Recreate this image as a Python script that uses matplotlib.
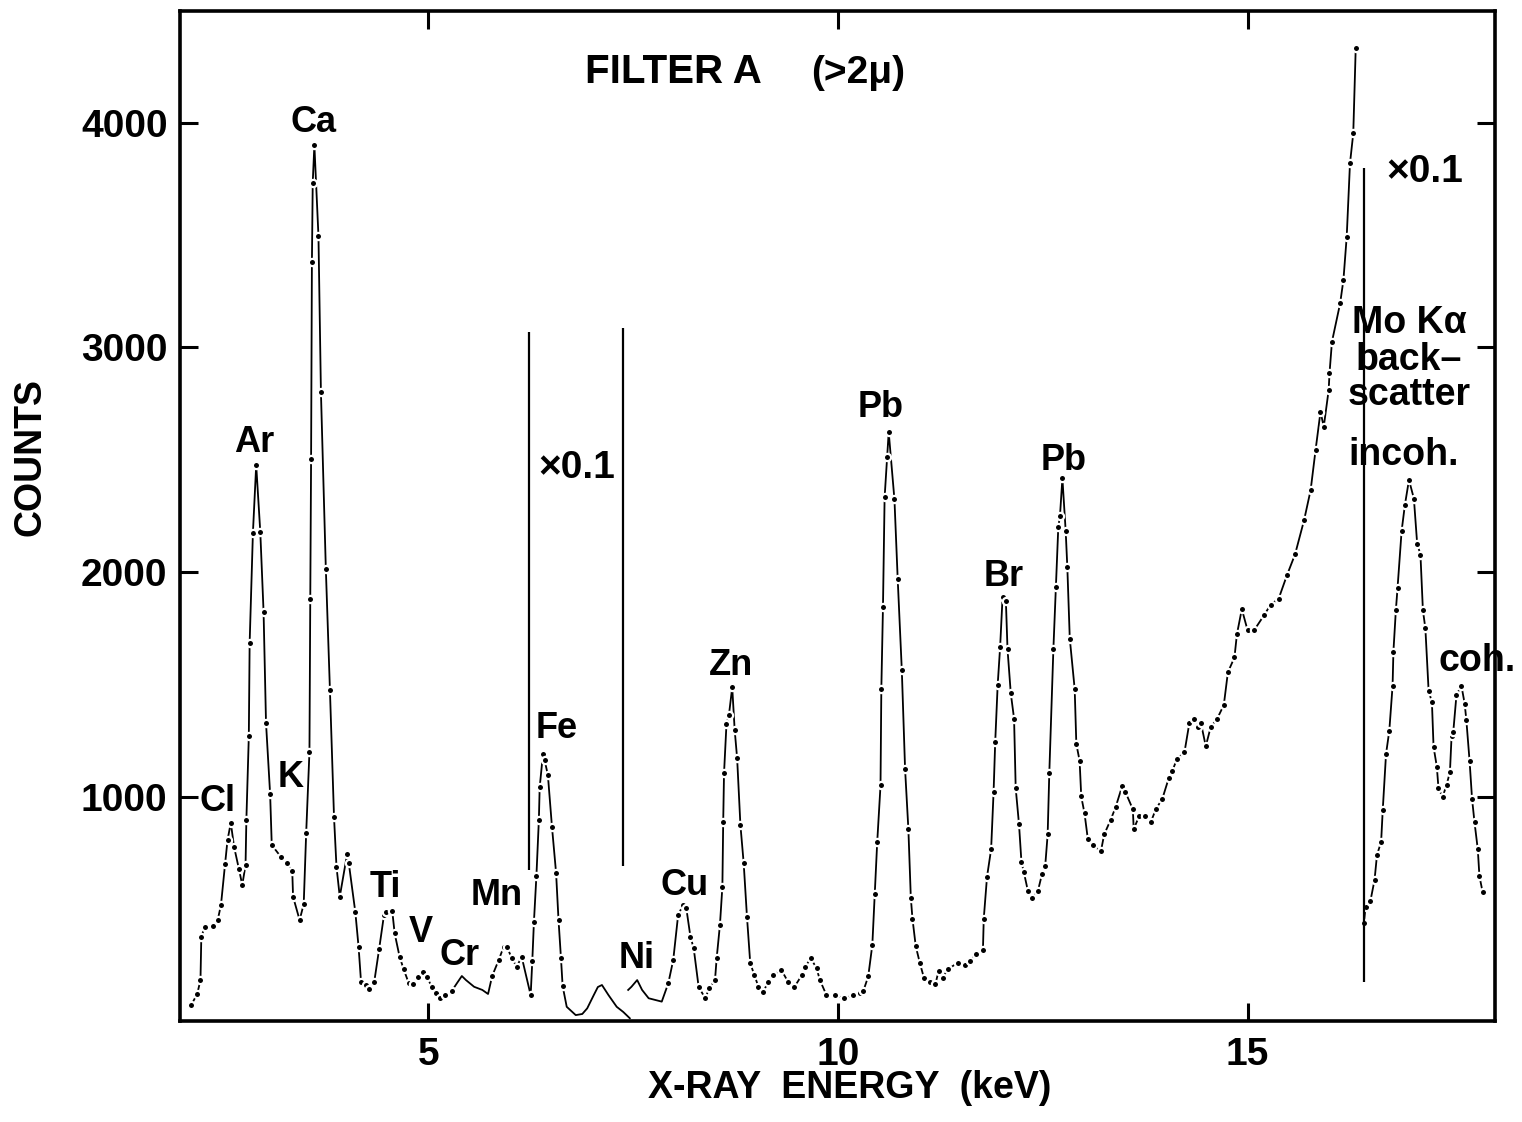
import matplotlib
matplotlib.use("Agg")
import matplotlib.pyplot as plt
import numpy as np

plt.rcParams['font.family'] = ['Liberation Sans', 'DejaVu Sans']
plt.rcParams['font.weight'] = 'bold'

#%% spectrum (counts as plotted, x0.1 parts already scaled)

# low energy part, Cl ... Fe (Fe region shown x0.1)
lo_kev = [2.11, 2.18, 2.22, 2.23, 2.27, 2.37, 2.43, 2.47, 2.52, 2.55,
          2.59, 2.63, 2.69, 2.73, 2.77, 2.78, 2.81, 2.82, 2.86, 2.90,
          2.95, 2.99, 3.02, 3.07, 3.09, 3.20, 3.28, 3.34, 3.35, 3.43,
          3.48, 3.51, 3.55, 3.56, 3.57, 3.58, 3.59, 3.61, 3.66, 3.69,
          3.75, 3.80, 3.85, 3.88, 3.92, 4.01, 4.03, 4.11, 4.15, 4.18,
          4.24, 4.28, 4.34, 4.40, 4.46, 4.48, 4.56, 4.59, 4.65, 4.70,
          4.76, 4.81, 4.87, 4.94, 4.99, 5.04, 5.09, 5.14, 5.21, 5.29,
          5.35, 5.41, 5.46, 5.56, 5.66, 5.73, 5.78, 5.86, 5.92, 5.96,
          6.02, 6.08, 6.14, 6.25, 6.27, 6.29, 6.32, 6.35, 6.36, 6.40,
          6.42, 6.46, 6.51, 6.56, 6.59, 6.62, 6.64, 6.69, 6.80, 6.88,
          6.94, 7.02, 7.07, 7.12, 7.20, 7.30, 7.38, 7.46]
lo_counts = [75, 122, 184, 374, 421, 425, 451, 518, 700, 807,
             884, 777, 677, 607, 696, 896, 1270, 1684, 2175, 2476,
             2178, 1823, 1327, 1012, 785, 733, 705, 671, 555, 451,
             522, 838, 1200, 1879, 2502, 3378, 3733, 3900, 3495, 2802,
             2013, 1475, 908, 688, 555, 745, 705, 486, 330, 174,
             162, 143, 174, 321, 474, 486, 493, 392, 288, 232,
             172, 165, 196, 221, 196, 154, 125, 105, 117, 137,
             170, 202, 184, 154, 140, 122, 202, 273, 332, 332,
             281, 243, 288, 117, 270, 444, 647, 896, 1042, 1190,
             1163, 1097, 866, 662, 451, 281, 158, 65, 28, 33,
             58, 117, 153, 162, 117, 65, 42, 14]

# Ni ... Mo backscatter edge
mid_kev = [7.44, 7.48, 7.55, 7.61, 7.69, 7.85, 7.93, 7.99, 8.05, 8.11,
           8.15, 8.20, 8.24, 8.30, 8.38, 8.43, 8.50, 8.52, 8.56, 8.59,
           8.60, 8.61, 8.64, 8.67, 8.71, 8.74, 8.77, 8.81, 8.85, 8.89,
           8.93, 8.98, 9.03, 9.09, 9.15, 9.21, 9.31, 9.39, 9.47, 9.56,
           9.60, 9.67, 9.74, 9.78, 9.86, 9.96, 10.08, 10.19, 10.27, 10.31,
           10.37, 10.42, 10.45, 10.48, 10.52, 10.53, 10.55, 10.57, 10.60, 10.62,
           10.69, 10.73, 10.78, 10.82, 10.86, 10.89, 10.91, 10.95, 11.00, 11.05,
           11.12, 11.19, 11.23, 11.28, 11.34, 11.46, 11.55, 11.61, 11.69, 11.77,
           11.78, 11.82, 11.87, 11.90, 11.92, 11.95, 11.98, 12.01, 12.05, 12.07,
           12.11, 12.15, 12.17, 12.21, 12.24, 12.27, 12.32, 12.37, 12.44, 12.49,
           12.53, 12.56, 12.58, 12.63, 12.66, 12.69, 12.71, 12.74, 12.78, 12.80,
           12.83, 12.89, 12.91, 12.95, 12.97, 13.01, 13.05, 13.11, 13.21, 13.25,
           13.33, 13.39, 13.47, 13.51, 13.60, 13.61, 13.68, 13.75, 13.82, 13.88,
           13.96, 14.04, 14.08, 14.14, 14.23, 14.29, 14.35, 14.39, 14.43, 14.49,
           14.55, 14.63, 14.71, 14.76, 14.84, 14.87, 14.93, 15.00, 15.08, 15.20,
           15.28, 15.38, 15.48, 15.58, 15.69, 15.77, 15.83, 15.89, 15.93, 15.99,
           16.00, 16.03, 16.13, 16.17, 16.21, 16.25, 16.29, 16.32]
mid_counts = [140, 154, 184, 140, 103, 88, 170, 273, 474, 518,
              503, 377, 325, 154, 103, 147, 184, 281, 429, 600,
              889, 1104, 1324, 1364, 1487, 1297, 1171, 874, 704, 466,
              259, 206, 154, 132, 177, 206, 229, 177, 154, 206,
              243, 281, 236, 184, 117, 117, 103, 117, 125, 135,
              200, 340, 565, 800, 1050, 1479, 1845, 2332, 2510, 2623,
              2323, 1967, 1563, 1122, 856, 550, 457, 335, 260, 194,
              175, 166, 226, 194, 232, 260, 251, 269, 301, 316,
              457, 644, 766, 1020, 1244, 1498, 1667, 1891, 1873, 1657,
              1460, 1348, 1038, 879, 710, 663, 579, 551, 579, 654,
              691, 832, 1104, 1658, 1933, 2201, 2248, 2417, 2183, 2023,
              1704, 1479, 1235, 1160, 1001, 926, 813, 785, 757, 832,
              898, 954, 1048, 1020, 944, 856, 916, 916, 888, 944,
              991, 1085, 1113, 1170, 1198, 1329, 1348, 1310, 1329, 1225,
              1310, 1348, 1408, 1554, 1620, 1723, 1835, 1741, 1741, 1807,
              1854, 1882, 1985, 2079, 2231, 2365, 2543, 2713, 2647, 2810,
              2884, 3025, 3196, 3300, 3492, 3819, 3952, 4331]

# Mo K-alpha backscatter, shown x0.1
hi_kev = [16.42, 16.44, 16.50, 16.55, 16.58, 16.63, 16.65, 16.69, 16.73, 16.77,
          16.78, 16.81, 16.83, 16.88, 16.92, 16.97, 17.03, 17.07, 17.11, 17.14,
          17.17, 17.21, 17.25, 17.27, 17.31, 17.33, 17.38, 17.43, 17.47, 17.49,
          17.51, 17.55, 17.61, 17.65, 17.67, 17.71, 17.74, 17.77, 17.81, 17.83,
          17.87]
hi_counts = [438, 510, 537, 630, 742, 798, 942, 1190, 1294, 1494,
             1646, 1830, 1927, 2182, 2298, 2410, 2327, 2126, 2078, 1830,
             1750, 1470, 1422, 1222, 1134, 1038, 998, 1054, 1110, 1270,
             1286, 1454, 1494, 1414, 1342, 1158, 990, 886, 766, 646,
             574]

# vertical bars marking the x0.1 regions
scale_kev = [6.23, 7.38, 16.42]
scale_lo = [675, 692, 175]
scale_hi = [3068, 3086, 3799]

# element labels (centre keV, baseline counts)
peak_names = ['Cl', 'K', 'Ar', 'Ca', 'Ti', 'V', 'Cr', 'Mn', 'Fe', 'Ni',
              'Cu', 'Zn', 'Pb', 'Br', 'Pb']
peak_kev = [2.43, 3.32, 2.88, 3.60, 4.48, 4.91, 5.38, 5.83, 6.57, 7.54,
            8.13, 8.69, 10.52, 12.02, 12.75]
peak_counts = [936, 1044, 2535, 3960, 554, 353, 251, 518, 1260, 238,
               563, 1542, 2688, 1939, 2454]

xticks = [5, 10, 15]
yticks = [1000, 2000, 3000, 4000]

# stretches drawn as plain line in the original (no dots)
plain_ranges = [(5.30, 5.75), (6.68, 7.90)]

#%%

fig = plt.figure(figsize=(15.22, 11.22), dpi=100)
ax = fig.add_axes([180/1522, 1 - 1021.4/1122, 1315/1522, 1010.4/1122])

for xs, ys in [(lo_kev, lo_counts), (mid_kev, mid_counts), (hi_kev, hi_counts)]:
    xs = np.asarray(xs)
    ys = np.asarray(ys)
    assert len(xs) == len(ys)
    dots = np.ones(len(xs), dtype=bool)
    for a, b in plain_ranges:
        dots &= ~((xs >= a) & (xs <= b))
    ax.plot(xs, ys, color='black', lw=1.3, marker='o', ms=5.2,
            mfc='black', mec='white', mew=1.6, markevery=list(dots))

ax.vlines(scale_kev, scale_lo, scale_hi, color='black', lw=1.6)

for name, xk, yc in zip(peak_names, peak_kev, peak_counts):
    ax.text(xk, yc, name, ha='center', va='baseline', fontsize=26)

ax.text(6.81, 2420, '×0.1', ha='center', va='baseline', fontsize=28)
ax.text(17.16, 3737, '×0.1', ha='center', va='baseline', fontsize=28)
ax.text(16.97, 3064, 'Mo Kα', ha='center', va='baseline', fontsize=27)
ax.text(16.97, 2899, 'back–', ha='center', va='baseline', fontsize=27)
ax.text(16.97, 2744, 'scatter', ha='center', va='baseline', fontsize=27)
ax.text(16.91, 2476, 'incoh.', ha='center', va='baseline', fontsize=27)
ax.text(17.80, 1558, 'coh.', ha='center', va='baseline', fontsize=27, clip_on=False)

ax.text(7.99, 4176, 'FILTER A', ha='center', va='baseline', fontsize=29)
ax.text(10.25, 4176, '(>2μ)', ha='center', va='baseline', fontsize=28)

ax.set_xlim(1.97, 18.02)
ax.set_ylim(0, 4497)
ax.set_xticks(xticks)
ax.set_yticks(yticks)
ax.tick_params(direction='in', length=13, width=2.2, top=True, right=True,
               labelsize=28)
ax.tick_params(axis='x', pad=11)
ax.tick_params(axis='y', pad=9)
for sp in ax.spines.values():
    sp.set_linewidth(2.6)

fig.text(30/1522, 1 - 457/1122, 'COUNTS', rotation=90, ha='center', va='center',
         fontsize=27)
fig.text(850/1522, 1 - 1098/1122, 'X-RAY  ENERGY  (keV)', ha='center',
         va='baseline', fontsize=27)

fig.savefig('out.png', dpi=100, facecolor='white')
